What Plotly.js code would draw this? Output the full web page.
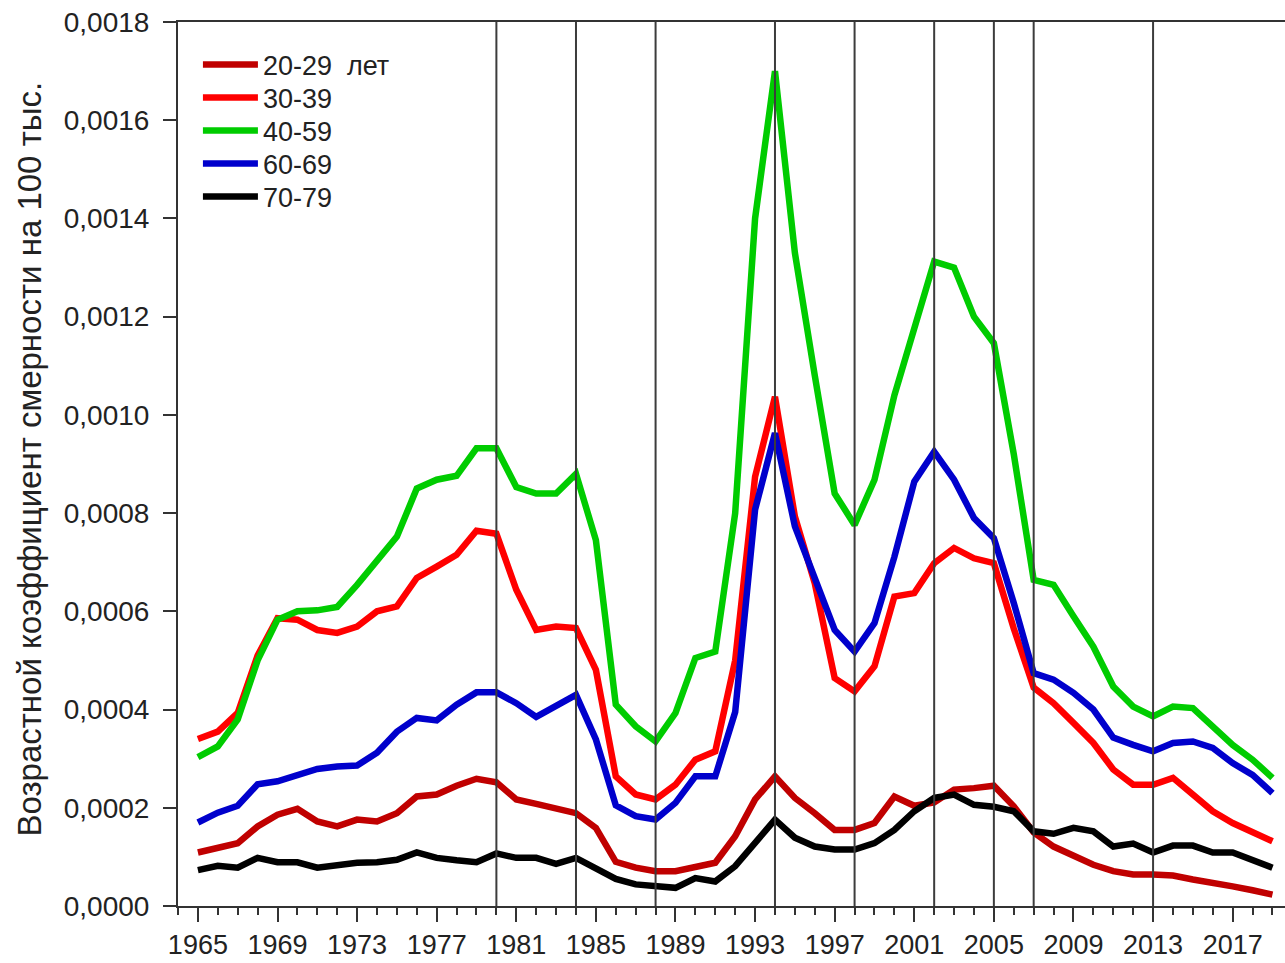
<!DOCTYPE html>
<html>
<head>
<meta charset="utf-8">
<script src="https://cdn.plot.ly/plotly-3.0.1.min.js"></script>
<style>
  html, body { margin: 0; padding: 0; background: #fff; }
  #chart { width: 1285px; height: 963px; }
</style>
</head>
<body>
<div id="chart"></div>
<script>
const years = [];
for (let y = 1965; y <= 2019; y++) years.push(y);

const seriesNames = ['20-29  лет', '30-39', '40-59', '60-69', '70-79'];
const seriesColors = ['#c00000', '#ff0000', '#00cc00', '#0000cc', '#000000'];

const age20_29 = [0.000109,0.000118,0.000128,0.000162,0.000186,0.000198,0.000172,0.000162,0.000176,0.000172,
  0.000189,0.000223,0.000227,0.000245,0.000259,0.000252,0.000217,0.000208,0.000200,0.000189,
  0.000159,0.000090,0.000078,0.000071,0.000071,0.000078,0.000088,0.000142,0.000217,0.000264,
  0.000220,0.000189,0.000155,0.000155,0.000169,0.000223,0.000204,0.000211,0.000237,0.000240,
  0.000245,0.000203,0.000150,0.000121,0.000101,0.000084,0.000071,0.000064,0.000064,0.000062,
  0.000054,0.000048,0.000040,0.000032,0.000023];

const age30_39 = [0.000340,0.000355,0.000393,0.000510,0.000586,0.000583,0.000562,0.000556,0.000569,0.000600,
  0.000610,0.000668,0.000691,0.000715,0.000764,0.000758,0.000644,0.000562,0.000569,0.000566,
  0.000481,0.000264,0.000227,0.000217,0.000247,0.000298,0.000315,0.000500,0.000874,0.001037,
  0.000793,0.000657,0.000464,0.000437,0.000488,0.000630,0.000637,0.000698,0.000729,0.000708,
  0.000698,0.000565,0.000445,0.000413,0.000373,0.000332,0.000278,0.000247,0.000247,0.000261,
  0.000227,0.000193,0.000169,0.000152,0.000132];

const age40_59 = [0.000303,0.000325,0.000380,0.000500,0.000583,0.000600,0.000602,0.000609,0.000654,0.000705,
  0.000752,0.000850,0.000868,0.000876,0.000932,0.000932,0.000853,0.000840,0.000840,0.000880,
  0.000745,0.000410,0.000366,0.000335,0.000393,0.000505,0.000518,0.000800,0.001400,0.001700,
  0.001330,0.001080,0.000840,0.000776,0.000868,0.001040,0.001180,0.001312,0.001300,0.001200,
  0.001146,0.000920,0.000664,0.000654,0.000590,0.000528,0.000447,0.000406,0.000386,0.000406,
  0.000403,0.000365,0.000328,0.000298,0.000261];

const age60_69 = [0.000170,0.000190,0.000204,0.000248,0.000254,0.000267,0.000279,0.000284,0.000286,0.000312,
  0.000355,0.000383,0.000378,0.000410,0.000435,0.000435,0.000413,0.000385,0.000406,0.000430,
  0.000339,0.000205,0.000183,0.000176,0.000210,0.000264,0.000264,0.000395,0.000807,0.000963,
  0.000773,0.000671,0.000562,0.000518,0.000576,0.000711,0.000864,0.000925,0.000868,0.000790,
  0.000749,0.000617,0.000474,0.000461,0.000434,0.000400,0.000343,0.000328,0.000315,0.000332,
  0.000335,0.000322,0.000291,0.000267,0.000230];

const age70_79 = [0.000073,0.000082,0.000078,0.000098,0.000089,0.000089,0.000078,0.000084,0.000088,0.000089,
  0.000094,0.000109,0.000098,0.000093,0.000089,0.000107,0.000098,0.000098,0.000086,0.000098,
  0.000078,0.000055,0.000044,0.000042,0.000037,0.000057,0.000050,0.000081,0.000128,0.000176,
  0.000139,0.000121,0.000115,0.000115,0.000128,0.000155,0.000193,0.000220,0.000227,0.000206,
  0.000202,0.000193,0.000152,0.000147,0.000159,0.000152,0.000121,0.000127,0.000109,0.000123,
  0.000123,0.000109,0.000109,0.000095,0.000078];

const markYears = [1980, 1984, 1988, 1994, 1998, 2002, 2005, 2007, 2013];

const yTitle = 'Возрастной коэффициент смерности на 100 тыс.';

const legendIds = ['legend', 'legend2', 'legend3', 'legend4', 'legend5'];

const allSeries = [age20_29, age30_39, age40_59, age60_69, age70_79];
const traces = allSeries.map((vals, i) => ({
  type: 'scatter',
  mode: 'lines',
  x: years,
  y: vals,
  name: seriesNames[i],
  legend: legendIds[i],
  line: { color: seriesColors[i], width: 6.5 }
}));

const axisColor = '#333333';
const font = 'Liberation Sans, Arial, sans-serif';

const shapes = markYears.map(yr => ({
  type: 'line', xref: 'x', yref: 'paper',
  x0: yr, x1: yr, y0: 0, y1: 1,
  line: { color: '#3c3c3c', width: 2 },
  layer: 'above'
}));

const layout = {
  width: 1285, height: 963,
  margin: { l: 178, r: 0, t: 22, b: 57 },
  paper_bgcolor: '#ffffff', plot_bgcolor: '#ffffff',
  separators: ', ',
  font: { family: font, color: '#222222' },
  showlegend: true,
  xaxis: {
    range: [1964, 2019.63],
    tickmode: 'linear', tick0: 1965, dtick: 4,
    ticks: 'outside', ticklen: 14, tickwidth: 2, tickcolor: axisColor,
    minor: { tickmode: 'linear', tick0: 1965, dtick: 1, ticks: 'outside', ticklen: 7, tickwidth: 2, tickcolor: axisColor, showgrid: false },
    showline: true, linecolor: axisColor, linewidth: 2, mirror: true,
    showgrid: false, zeroline: false,
    tickfont: { family: font, size: 27, color: '#222222' }
  },
  yaxis: {
    range: [0, 0.0018],
    tickmode: 'linear', tick0: 0, dtick: 0.0002, tickformat: '.4f',
    ticks: 'outside', ticklen: 13, tickwidth: 2, tickcolor: axisColor,
    ticklabelstandoff: 8,
    showline: true, linecolor: axisColor, linewidth: 2, mirror: false,
    showgrid: false, zeroline: false,
    tickfont: { family: font, size: 28, color: '#222222' }
  },
  annotations: [{
    text: yTitle, textangle: -90,
    xref: 'paper', yref: 'paper', x: 0, y: 0.505,
    xanchor: 'center', yanchor: 'middle', xshift: -148,
    showarrow: false,
    font: { family: font, size: 33, color: '#222222' }
  }],
  shapes: shapes
};

// one legend box per series so the rows keep the reference spacing
const rowCenters = [65, 98, 131, 164, 197];
legendIds.forEach((id, i) => {
  layout[id] = {
    x: 0.018, y: 1 - (rowCenters[i] - 22) / 884, xanchor: 'left', yanchor: 'middle',
    bgcolor: 'rgba(0,0,0,0)', borderwidth: 0,
    font: { family: font, size: 27, color: '#222222' },
    itemwidth: 55
  };
});

Plotly.newPlot('chart', traces, layout, { displayModeBar: false, staticPlot: true });
</script>
</body>
</html>
